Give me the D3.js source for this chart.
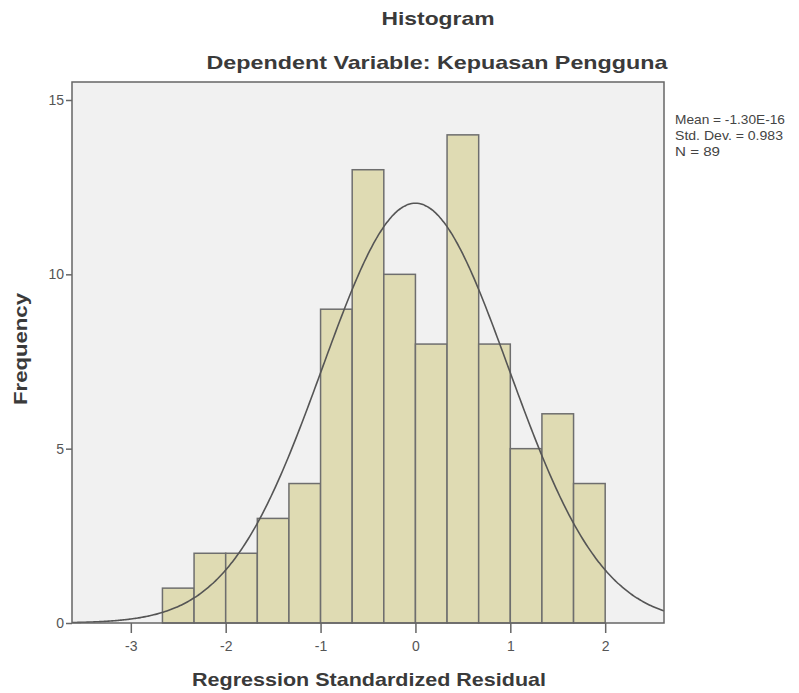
<!DOCTYPE html>
<html>
<head>
<meta charset="utf-8">
<script src="https://cdn.jsdelivr.net/npm/d3@7"></script>
<style>
  body { margin: 0; background: #fff; }
  text { font-family: Arial, "Liberation Sans", sans-serif; }
</style>
</head>
<body>
<svg width="799" height="693"></svg>
<script>
// bins of 1/3 width, from -2.667 to 2
const binStarts = [-8/3, -7/3, -2, -5/3, -4/3, -1, -2/3, -1/3, 0, 1/3, 2/3, 1, 4/3, 5/3]
const counts = [1, 2, 2, 3, 4, 9, 13, 10, 8, 14, 8, 5, 6, 4]
const binWidth = 1/3
const xTicks = [-3, -2, -1, 0, 1, 2]
const yTicks = [0, 5, 10, 15]
const stats = ["Mean = -1.30E-16", "Std. Dev. = 0.983", "N = 89"]
const mean = -1.30e-16, sd = 0.983, N = 89

const svg = d3.select("svg")
const plotL = 72, plotR = 664, plotT = 82, plotB = 623

const x = d3.scaleLinear().domain([-3.62, 2.62]).range([plotL, plotR])
const y = d3.scaleLinear().domain([0, 15]).range([plotB, 100])

svg.append("rect")
   .attr("x", plotL).attr("y", plotT)
   .attr("width", plotR-plotL).attr("height", plotB-plotT)
   .attr("fill", "#f1f1f1")

svg.selectAll(".bar")
   .data(binStarts)
   .enter()
   .append("rect")
   .classed("bar", true)
   .attr("x", d => x(d))
   .attr("y", (d,i) => y(counts[i]))
   .attr("width", d => x(d+binWidth) - x(d))
   .attr("height", (d,i) => y(0) - y(counts[i]))
   .attr("fill", "#dfdbb3")
   .attr("stroke", "#6e6e6e")
   .attr("stroke-width", 1.5)

// normal curve scaled to counts
const curvePts = d3.range(-3.62, 2.621, 0.02)
const line = d3.line()
               .x(d => x(d))
               .y(d => y(N*binWidth*Math.exp(-0.5*((d-mean)/sd)**2)/(sd*Math.sqrt(2*Math.PI))))
               .curve(d3.curveBasis)
svg.append("path")
   .attr("d", line(curvePts))
   .attr("fill", "none")
   .attr("stroke", "#555")
   .attr("stroke-width", 1.6)

svg.append("rect")
   .attr("x", plotL).attr("y", plotT)
   .attr("width", plotR-plotL).attr("height", plotB-plotT)
   .attr("fill", "none")
   .attr("stroke", "#666")
   .attr("stroke-width", 1.5)

const xAxis = svg.append("g")
                 .attr("transform", `translate(0,${plotB})`)
                 .call(d3.axisBottom(x).tickValues(xTicks).tickSize(10).tickSizeOuter(0).tickFormat(d => String(d)))
xAxis.select(".domain").remove()
xAxis.selectAll("line").attr("stroke", "#666").attr("stroke-width", 1.5)
xAxis.selectAll("text").attr("fill", "#555").attr("font-size", 14).attr("dy", "1.05em")

const yAxis = svg.append("g")
                 .attr("transform", `translate(${plotL},0)`)
                 .call(d3.axisLeft(y).tickValues(yTicks).tickSize(6).tickSizeOuter(0))
yAxis.select(".domain").remove()
yAxis.selectAll("line").attr("stroke", "#666").attr("stroke-width", 1.5)
yAxis.selectAll("text").attr("fill", "#555").attr("font-size", 14).attr("x", -8)

const title = (txt, xc, yc, len) =>
  svg.append("text")
     .attr("x", xc).attr("y", yc)
     .attr("text-anchor", "middle")
     .attr("font-size", 19).attr("font-weight", "bold").attr("fill", "#3a3a3a")
     .attr("textLength", len).attr("lengthAdjust", "spacingAndGlyphs")
     .text(txt)

title("Histogram", 438, 25, 113)
title("Dependent Variable: Kepuasan Pengguna", 437, 69, 461)
title("Regression Standardized Residual", 369, 686, 354)
title("Frequency", 0, 0, 112)
   .attr("transform", "translate(27,349) rotate(-90)")

svg.selectAll(".stat")
   .data(stats)
   .enter()
   .append("text")
   .classed("stat", true)
   .attr("x", 675)
   .attr("y", (d,i) => 124 + i*16)
   .attr("font-size", 13).attr("fill", "#444")
   .attr("textLength", (d,i) => [110, 108, 45][i])
   .attr("lengthAdjust", "spacingAndGlyphs")
   .text(d => d)
</script>
</body>
</html>
